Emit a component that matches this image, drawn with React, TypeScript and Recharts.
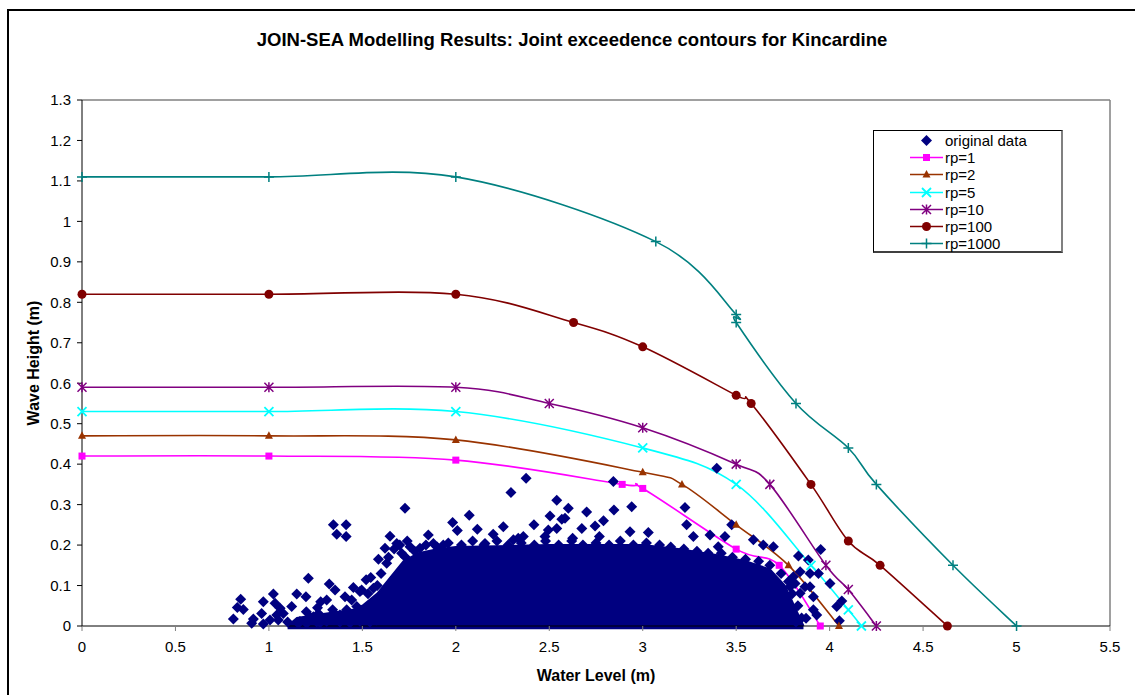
import React from 'react';
import {
  ComposedChart, Line, Scatter, Area, XAxis, YAxis, ReferenceLine, Legend, Label,
} from 'recharts';

const xTicks = [0, 0.5, 1, 1.5, 2, 2.5, 3, 3.5, 4, 4.5, 5, 5.5];
const yTicks = [0, 0.1, 0.2, 0.3, 0.4, 0.5, 0.6, 0.7, 0.8, 0.9, 1, 1.1, 1.2, 1.3];

const rp1 = [[0, 0.42], [1, 0.42], [2, 0.41], [2.89, 0.35], [3, 0.34], [3.5, 0.19], [3.73, 0.15], [3.95, 0]];
const rp2 = [[0, 0.47], [1, 0.47], [2, 0.46], [3, 0.38], [3.21, 0.35], [3.5, 0.25], [3.78, 0.15], [4.05, 0]];
const rp5 = [[0, 0.53], [1, 0.53], [2, 0.53], [3, 0.44], [3.5, 0.35], [3.9, 0.15], [4.1, 0.04], [4.17, 0]];
const rp10 = [[0, 0.59], [1, 0.59], [2, 0.59], [2.5, 0.55], [3, 0.49], [3.5, 0.4], [3.68, 0.35], [3.98, 0.15], [4.1, 0.09], [4.25, 0]];
const rp100 = [[0, 0.82], [1, 0.82], [2, 0.82], [2.63, 0.75], [3, 0.69], [3.5, 0.57], [3.58, 0.55], [3.9, 0.35], [4.1, 0.21], [4.27, 0.15], [4.63, 0]];
const rp1000 = [[0, 1.11], [1, 1.11], [2, 1.11], [3.07, 0.95], [3.5, 0.77], [3.5, 0.75], [3.82, 0.55], [4.1, 0.44], [4.25, 0.35], [4.66, 0.15], [5, 0]];

// upper edge of the solid mass of observations
const cloudTop = [[1.1, 0], [1.15, 0.02], [1.3, 0.03], [1.45, 0.04], [1.5, 0.05], [1.58, 0.08], [1.65, 0.12], [1.72, 0.16], [1.8, 0.18], [1.9, 0.19], [2.0, 0.195], [2.5, 0.2], [3.0, 0.2], [3.2, 0.19], [3.4, 0.175], [3.55, 0.16], [3.68, 0.14], [3.76, 0.1], [3.8, 0.06], [3.84, 0.02], [3.86, 0]];

const cloudEdge = [[1.53, 0.08], [1.58, 0.1], [1.6, 0.13], [1.64, 0.17], [1.67, 0.19], [1.7, 0.2], [1.74, 0.21], [1.78, 0.185], [1.84, 0.2], [1.9, 0.195], [1.96, 0.205], [2.03, 0.2], [2.09, 0.21], [2.15, 0.2], [2.22, 0.21], [2.28, 0.2], [2.35, 0.205], [2.42, 0.2], [2.48, 0.21], [2.55, 0.2], [2.62, 0.21], [2.68, 0.2], [2.75, 0.205], [2.82, 0.2], [2.88, 0.21], [2.95, 0.2], [3.02, 0.205], [3.09, 0.2], [3.15, 0.195], [3.22, 0.19], [3.29, 0.185], [3.35, 0.18], [3.42, 0.18], [3.48, 0.17], [3.55, 0.165], [3.62, 0.16], [3.68, 0.15], [3.74, 0.13], [3.78, 0.11], [3.8, 0.08], [3.83, 0.05], [3.85, 0.02]];

const leftSparse = [[0.81, 0.017], [0.831, 0.046], [0.849, 0.066], [0.863, 0.041], [0.908, 0.007], [0.917, 0.017], [0.961, 0.031], [0.97, 0.06], [0.97, 0.005], [1.006, 0.015], [1.024, 0.079], [1.033, 0.056], [1.042, 0.027], [1.06, 0.044], [1.077, 0.031], [1.05, 0.015], [1.122, 0.048], [1.149, 0.079], [1.157, 0.007], [1.166, 0.011], [1.198, 0.072], [1.202, 0.007], [1.211, 0.118], [1.22, 0.023], [1.238, 0.023], [1.265, 0.031], [1.273, 0.008], [1.277, 0.06], [1.309, 0.064], [1.323, 0.104], [1.341, 0.04], [1.345, 0.031], [1.354, 0.089], [1.38, 0.027], [1.407, 0.072], [1.416, 0.04], [1.443, 0.064], [1.452, 0.095], [1.47, 0.048], [1.487, 0.085], [1.496, 0.089], [1.52, 0.114], [1.545, 0.12], [1.559, 0.093], [1.586, 0.165], [1.63, 0.155], [1.621, 0.192], [1.648, 0.222], [1.684, 0.204], [1.71, 0.18], [1.728, 0.171], [1.755, 0.196], [1.345, 0.25], [1.413, 0.25], [1.363, 0.227], [1.413, 0.221], [1.728, 0.291], [1.1, 0.01], [1.256, 0.01], [1.309, 0.012], [1.38, 0.01], [1.434, 0.008], [1.487, 0.012], [1.541, 0.01], [1.577, 0.015], [1.2, 0.035], [1.33, 0.02], [1.5, 0.03], [1.42, 0.02], [1.26, 0.045], [1.55, 0.05], [1.6, 0.04]];

const midOutliers = [[1.808, 0.192], [1.853, 0.225], [1.88, 0.204], [1.933, 0.2], [1.983, 0.256], [2.008, 0.236], [2.072, 0.274], [2.115, 0.239], [2.156, 0.204], [2.2, 0.227], [2.254, 0.245], [2.295, 0.33], [2.308, 0.213], [2.334, 0.217], [2.361, 0.221], [2.376, 0.365], [2.418, 0.25], [2.477, 0.221], [2.495, 0.237], [2.504, 0.272], [2.54, 0.311], [2.54, 0.241], [2.567, 0.264], [2.584, 0.266], [2.602, 0.291], [2.625, 0.217], [2.674, 0.241], [2.7, 0.282], [2.745, 0.247], [2.768, 0.221], [2.79, 0.26], [2.843, 0.357], [2.846, 0.287], [2.932, 0.233], [2.941, 0.295], [3.03, 0.231], [3.226, 0.293], [3.235, 0.25], [3.271, 0.221], [3.36, 0.225], [3.396, 0.39], [3.404, 0.196], [3.44, 0.221], [3.476, 0.25], [3.592, 0.213], [3.645, 0.2], [3.699, 0.196]];

const rightEdge = [[3.77, 0.072], [3.788, 0.097], [3.806, 0.122], [3.815, 0.105], [3.833, 0.173], [3.842, 0.134], [3.842, 0.081], [3.868, 0.097], [3.874, 0.019], [3.886, 0.163], [3.895, 0.13], [3.895, 0.097], [3.913, 0.072], [3.913, 0.04], [3.931, 0.027], [3.94, 0.13], [3.952, 0.189], [4.002, 0.105], [4.038, 0.048], [4.052, 0.013], [4.065, 0.062], [3.8, 0.04], [3.82, 0.01], [3.76, 0.02]];

const toObj = (a: number[][]) => a.map(([x, y]) => ({ x, y }));
const observed = toObj([...leftSparse, ...cloudEdge, ...midOutliers, ...rightEdge]);

const FONT = '"Liberation Sans", Arial, sans-serif';
const NAVY = '#000080';

function excelCurve(context: any) {
  let pts: number[][] = [];
  return {
    areaStart() {},
    areaEnd() {},
    lineStart() { pts = []; },
    lineEnd() {
      const n = pts.length;
      if (!n) return;
      context.moveTo(pts[0][0], pts[0][1]);
      for (let i = 0; i < n - 1; i++) {
        const p0 = pts[Math.max(i - 1, 0)];
        const p1 = pts[i];
        const p2 = pts[i + 1];
        const p3 = pts[Math.min(i + 2, n - 1)];
        context.bezierCurveTo(
          p1[0] + (p2[0] - p0[0]) / 6, p1[1] + (p2[1] - p0[1]) / 6,
          p2[0] - (p3[0] - p1[0]) / 6, p2[1] - (p3[1] - p1[1]) / 6,
          p2[0], p2[1],
        );
      }
    },
    point(x: number, y: number) { pts.push([+x, +y]); },
  };
}

type Kind = 'diamond' | 'square' | 'triangle' | 'x' | 'star' | 'circle' | 'plus';

function Marker({ kind, cx, cy, color }: { kind: Kind; cx: number; cy: number; color: string }) {
  switch (kind) {
    case 'diamond':
      return <polygon points={`${cx},${cy - 5.5} ${cx + 5.5},${cy} ${cx},${cy + 5.5} ${cx - 5.5},${cy}`} fill={color} />;
    case 'square':
      return <rect x={cx - 3.5} y={cy - 3.5} width={7} height={7} fill={color} />;
    case 'triangle':
      return <polygon points={`${cx},${cy - 4.5} ${cx + 4},${cy + 3} ${cx - 4},${cy + 3}`} fill={color} />;
    case 'x':
      return <path d={`M${cx - 4.5},${cy - 4.5}L${cx + 4.5},${cy + 4.5}M${cx - 4.5},${cy + 4.5}L${cx + 4.5},${cy - 4.5}`} stroke={color} strokeWidth={1.8} fill="none" />;
    case 'star':
      return <path d={`M${cx - 4.5},${cy - 4.5}L${cx + 4.5},${cy + 4.5}M${cx - 4.5},${cy + 4.5}L${cx + 4.5},${cy - 4.5}M${cx},${cy - 5}L${cx},${cy + 5}`} stroke={color} strokeWidth={1.5} fill="none" />;
    case 'circle':
      return <circle cx={cx} cy={cy} r={4.5} fill={color} />;
    case 'plus':
      return <path d={`M${cx - 5},${cy}L${cx + 5},${cy}M${cx},${cy - 5}L${cx},${cy + 5}`} stroke={color} strokeWidth={1.5} fill="none" />;
  }
  return null;
}

const series: { name: string; data: number[][]; color: string; kind: Kind }[] = [
  { name: 'rp=1', data: rp1, color: '#FF00FF', kind: 'square' },
  { name: 'rp=2', data: rp2, color: '#993300', kind: 'triangle' },
  { name: 'rp=5', data: rp5, color: '#00FFFF', kind: 'x' },
  { name: 'rp=10', data: rp10, color: '#800080', kind: 'star' },
  { name: 'rp=100', data: rp100, color: '#800000', kind: 'circle' },
  { name: 'rp=1000', data: rp1000, color: '#008080', kind: 'plus' },
];

const legendItems: { name: string; color: string; kind: Kind; line: boolean }[] = [
  { name: 'original data', color: NAVY, kind: 'diamond', line: false },
  ...series.map((s) => ({ name: s.name, color: s.color, kind: s.kind, line: true })),
];

function LegendBox() {
  return (
    <div style={{
      position: 'relative', width: 190, height: 123, background: '#fff', border: '1px solid #000',
      borderRight: '2px solid #808080', borderBottom: '2px solid #404040', boxSizing: 'border-box',
      fontFamily: FONT, fontSize: 15, color: '#000', textAlign: 'left',
    }}>
      {legendItems.map((it, i) => (
        <div key={it.name} style={{ position: 'absolute', left: 0, top: 1 + i * 17.2, height: 17, width: 186 }}>
          <svg width={72} height={17} style={{ position: 'absolute', left: 0, top: 0 }}>
            {it.line && <line x1={36} x2={69} y1={8.5} y2={8.5} stroke={it.color} strokeWidth={1.6} />}
            <Marker kind={it.kind} cx={52.5} cy={8.5} color={it.color} />
          </svg>
          <span style={{ position: 'absolute', left: 71, top: 0, lineHeight: '17px', whiteSpace: 'nowrap' }}>{it.name}</span>
        </div>
      ))}
    </div>
  );
}

export default function App() {
  return (
    <div style={{ position: 'absolute', left: 0, top: 0, width: 1135, height: 695, overflow: 'hidden', background: '#fff' }}>
      <div style={{ position: 'absolute', left: 7, top: 9, width: 1128, height: 686, borderLeft: '2px solid #000', borderTop: '2px solid #000' }} />
      <div style={{ position: 'absolute', left: 0, top: 29, width: 1144, textAlign: 'center', fontFamily: FONT, fontWeight: 'bold', fontSize: 18.5, color: '#000' }}>
        JOIN-SEA Modelling Results: Joint exceedence contours for Kincardine
      </div>
      <div style={{ position: 'absolute', left: 0, top: 0 }}>
        <ComposedChart width={1135} height={695} margin={{ top: 100, right: 25, bottom: 0, left: 0 }}>
          <XAxis
            type="number" dataKey="x" domain={[0, 5.5]} ticks={xTicks} interval={0}
            allowDuplicatedCategory={false}
            height={69} tickSize={5} tickMargin={10}
            stroke="#000" tick={{ fill: '#000', fontFamily: FONT, fontSize: 15 }}
            tickLine={{ stroke: '#808080' }}
          >
            <Label content={() => (
              <text x={596} y={681} textAnchor="middle" fontFamily={FONT} fontWeight="bold" fontSize={16} fill="#000">Water Level (m)</text>
            )} />
          </XAxis>
          <YAxis
            type="number" domain={[0, 1.3]} ticks={yTicks} interval={0}
            width={82} tickSize={5} tickMargin={6}
            stroke="#000" tick={{ fill: '#000', fontFamily: FONT, fontSize: 15 }}
          >
            <Label content={() => (
              <text x={39} y={363} transform="rotate(-90 39 363)" textAnchor="middle" fontFamily={FONT} fontWeight="bold" fontSize={16} fill="#000">Wave Height (m)</text>
            )} />
          </YAxis>
          <ReferenceLine y={1.3} stroke="#808080" strokeWidth={1.5} />
          <ReferenceLine x={5.5} stroke="#808080" strokeWidth={1.5} />
          <Area
            data={toObj(cloudTop)} dataKey="y" type="linear" baseValue={-0.008}
            fill={NAVY} fillOpacity={1} stroke={NAVY} strokeWidth={2}
            isAnimationActive={false} dot={false} activeDot={false}
          />
          <Scatter
            data={observed} dataKey="y" name="original data" fill={NAVY}
            isAnimationActive={false}
            shape={(p: any) => <Marker kind="diamond" cx={p.cx} cy={p.cy} color={NAVY} />}
          />
          {series.map((s) => (
            <Line
              key={s.name} data={toObj(s.data)} dataKey="y" name={s.name}
              type={excelCurve as any} stroke={s.color} strokeWidth={1.6}
              isAnimationActive={false} activeDot={false}
              dot={(p: any) => <Marker key={`${s.name}-${p.index}`} kind={s.kind} cx={p.cx} cy={p.cy} color={s.color} />}
            />
          ))}
          <Legend
            layout="vertical" align="center" verticalAlign="middle"
            wrapperStyle={{ left: 873, top: 130, width: 190, height: 123 }}
            content={() => <LegendBox />}
          />
        </ComposedChart>
      </div>
    </div>
  );
}
